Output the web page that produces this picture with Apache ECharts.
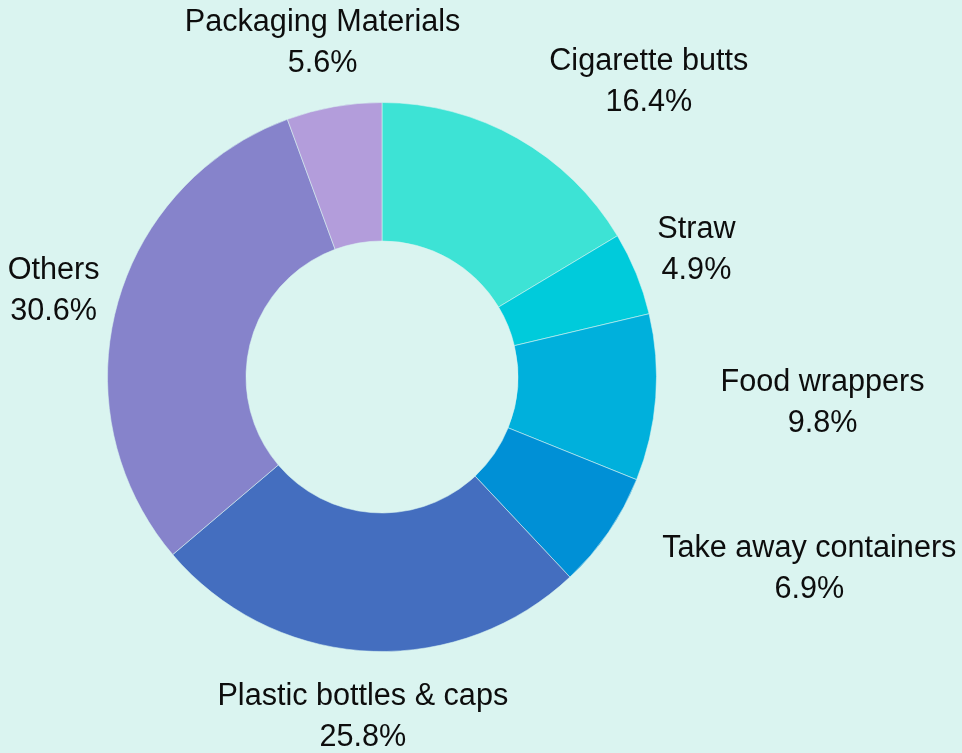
<!DOCTYPE html>
<html>
<head>
<meta charset="utf-8">
<script src="https://cdn.jsdelivr.net/npm/echarts@6/dist/echarts.min.js"></script>
<style>
html,body{margin:0;padding:0;background:#daf4f0;}
#chart{width:962px;height:753px;}
</style>
</head>
<body>
<div id="chart"></div>
<script>
const categories = ['Cigarette butts', 'Straw', 'Food wrappers', 'Take away containers', 'Plastic bottles & caps', 'Others', 'Packaging Materials'];
const values = [16.4, 4.9, 9.8, 6.9, 25.8, 30.6, 5.6];
const colors = ['#3de3d5', '#00cbdb', '#00b0dc', '#0090d6', '#446ebf', '#8683cb', '#b39ddb'];

const CX = 382, CY = 377, R_IN = 136, R_OUT = 274.5, LABEL_R = 339.5;
const total = values.reduce((a, b) => a + b, 0);

const chart = echarts.init(document.getElementById('chart'));
chart.setOption({
  backgroundColor: '#daf4f0',
  animation: false,
  series: [{
    type: 'pie',
    center: [CX, CY],
    radius: [R_IN, R_OUT],
    startAngle: 90,
    clockwise: true,
    avoidLabelOverlap: false,
    data: categories.map((c, i) => ({ name: c, value: values[i], itemStyle: { color: colors[i] } })),
    itemStyle: { borderColor: 'rgba(218,244,240,0.7)', borderWidth: 0.8 },
    label: {
      show: true,
      position: 'outside',
      overflow: 'none',
      color: '#0d0d0d',
      fontSize: 30.6,
      lineHeight: 41,
      fontFamily: '"Liberation Sans", Arial, sans-serif',
      formatter: p => p.name + '\n' + p.value.toFixed(1) + '%'
    },
    labelLine: { show: false },
    emphasis: { disabled: true },
    labelLayout: function (p) {
      const i = p.dataIndex;
      let before = 0;
      for (let j = 0; j < i; j++) before += values[j];
      const theta = (before + values[i] / 2) / total * Math.PI * 2;
      const s = Math.sin(theta), c = Math.cos(theta);
      let x = CX + LABEL_R * s;
      const y = CY - LABEL_R * c + 0.8;
      const w = p.labelRect.width, h = p.labelRect.height;
      const nx = Math.min(Math.max(CX, x - w / 2), x + w / 2);
      const ny = Math.min(Math.max(CY, y - h / 2), y + h / 2);
      if (Math.hypot(nx - CX, ny - CY) < R_OUT) {
        x += (s >= 0 ? 1 : -1) * w / 2;
      }
      return { x: x, y: y, align: 'center', verticalAlign: 'middle' };
    }
  }]
});
</script>
</body>
</html>
